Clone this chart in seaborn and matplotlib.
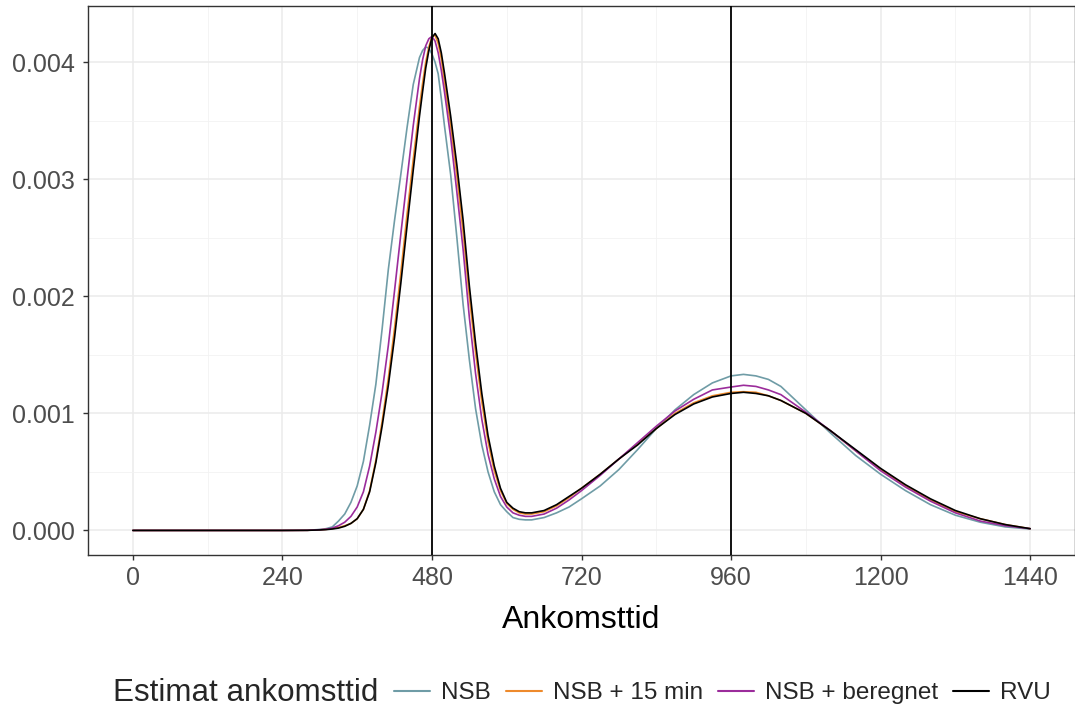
"""
Ankomsttid density curves: NSB estimates vs RVU
"""

import numpy as np
import pandas as pd
import matplotlib
matplotlib.use('Agg')
import matplotlib.pyplot as plt
from matplotlib.ticker import MultipleLocator, FormatStrFormatter
import seaborn as sns

# ── Data ──────────────────────────────────────────────────────────────────────

minutes = [0, 240, 280, 300, 310, 320, 330, 340, 350, 360, 370, 380, 390, 400,
           410, 420, 430, 440, 450, 460, 465, 470, 475, 480, 485, 490, 495, 500,
           510, 520, 530, 540, 550, 560, 570, 580, 590, 600, 610, 620, 630, 640,
           660, 680, 700, 720, 750, 780, 810, 840, 870, 900, 930, 960, 980, 1000,
           1020, 1040, 1080, 1120, 1160, 1200, 1240, 1280, 1320, 1360, 1400, 1440]

nsb = [0, 0, 0.000001, 0.000008, 0.000015, 0.00003, 0.00008, 0.00014, 0.00024,
       0.00038, 0.00059, 0.00090, 0.00125, 0.00172, 0.00223, 0.00265, 0.00304,
       0.00344, 0.00381, 0.00404, 0.00410, 0.00413, 0.00412, 0.00407, 0.00400,
       0.00390, 0.00369, 0.00346, 0.00304, 0.00250, 0.00193, 0.00146, 0.00104,
       0.00073, 0.00050, 0.00033, 0.00022, 0.00016, 0.00011, 0.000095, 0.00009,
       0.00009, 0.00011, 0.00015, 0.00020, 0.00027, 0.00038, 0.00052, 0.00069,
       0.00087, 0.00103, 0.00116, 0.00126, 0.00132, 0.001333, 0.00132, 0.00129,
       0.00123, 0.00103, 0.00083, 0.00064, 0.00048, 0.00034, 0.00022, 0.00013,
       0.00007, 0.00003, 0.000012]

nsb_15 = [0, 0, 0.000001, 0.000005, 0.000009, 0.000015, 0.000025, 0.00004,
          0.00006, 0.0001, 0.00018, 0.00034, 0.0006, 0.00093, 0.0013, 0.00173,
          0.0022, 0.0027, 0.00317, 0.00362, 0.00382, 0.004, 0.00413, 0.00422,
          0.00423, 0.00416, 0.00403, 0.00384, 0.00346, 0.00303, 0.00255, 0.002,
          0.00152, 0.0011, 0.00076, 0.00051, 0.00034, 0.00023, 0.00018, 0.00015,
          0.00014, 0.00014, 0.00016, 0.00021, 0.00028, 0.00036, 0.00048, 0.00061,
          0.00074, 0.00087, 0.001, 0.00109, 0.00115, 0.00118, 0.001185, 0.00118,
          0.00115, 0.00111, 0.001, 0.00085, 0.00068, 0.00052, 0.00038, 0.00026,
          0.00016, 0.0001, 0.00005, 0.000015]

nsb_beregnet = [0, 0, 0.000001, 0.000006, 0.00001, 0.00002, 0.00004, 0.00007,
                0.00012, 0.0002, 0.00033, 0.00055, 0.00084, 0.00118, 0.00158,
                0.00205, 0.00253, 0.003, 0.00346, 0.00386, 0.00402, 0.00414,
                0.0042, 0.00422, 0.00418, 0.00408, 0.00393, 0.00375, 0.00336,
                0.00289, 0.0024, 0.00182, 0.00134, 0.00095, 0.00065, 0.00044,
                0.00029, 0.0002, 0.00015, 0.00013, 0.00012, 0.00012, 0.00014,
                0.00019, 0.00026, 0.00034, 0.00047, 0.00061, 0.00075, 0.00089,
                0.00102, 0.00112, 0.0012, 0.001225, 0.00124, 0.00123, 0.0012,
                0.00116, 0.00101, 0.00085, 0.00068, 0.00051, 0.00037, 0.00025,
                0.00015, 0.00008, 0.00004, 0.000015]

rvu = [0, 0, 0.000001, 0.000004, 0.000007, 0.000012, 0.00002, 0.000035, 0.00006,
       0.0001, 0.00018, 0.00033, 0.00058, 0.00089, 0.00124, 0.00165, 0.00211,
       0.0026, 0.00308, 0.00354, 0.00375, 0.00395, 0.0041, 0.00421, 0.004245,
       0.0042, 0.00408, 0.00391, 0.00354, 0.00312, 0.00265, 0.00209, 0.0016,
       0.00117, 0.00081, 0.00055, 0.00036, 0.00024, 0.00019, 0.00016, 0.00015,
       0.00015, 0.00017, 0.00022, 0.00029, 0.00036, 0.00048, 0.00061, 0.00073,
       0.00087, 0.00099, 0.00108, 0.00114, 0.00117, 0.00118, 0.00117, 0.00115,
       0.00111, 0.001, 0.00085, 0.00069, 0.00053, 0.00039, 0.00027, 0.00017,
       0.0001, 0.00005, 0.000015]

series_names = ['NSB', 'NSB + 15 min', 'NSB + beregnet', 'RVU']
series_colors = ['#6f9ca6', '#ee8a2c', '#9b2c9b', '#000000']
ref_lines = [480, 960]
x_ticks = [0, 240, 480, 720, 960, 1200, 1440]

# ── Long-form table ───────────────────────────────────────────────────────────

df = pd.concat([
    pd.DataFrame({'Ankomsttid': minutes, 'density': vals, 'Estimat': name})
    for name, vals in zip(series_names, [nsb, nsb_15, nsb_beregnet, rvu])
], ignore_index=True)

# ── Plot ──────────────────────────────────────────────────────────────────────

sns.set_theme(style='whitegrid')
plt.rcParams['font.family'] = ['Liberation Sans', 'DejaVu Sans']

fig = plt.figure(figsize=(10.75, 7.10), dpi=100)
ax = fig.add_axes([88 / 1075, 1 - 555 / 710, 987 / 1075, 549 / 710])

sns.lineplot(data=df, x='Ankomsttid', y='density', hue='Estimat',
             hue_order=series_names, palette=dict(zip(series_names, series_colors)),
             estimator=None, linewidth=1.2, ax=ax, legend=False)

for xv in ref_lines:
    ax.axvline(xv, color='black', linewidth=1.3, zorder=5)

ax.set_xlim(-72, 1512)
ax.set_ylim(-0.00021, 0.00448)
ax.set_xticks(x_ticks)
ax.xaxis.set_minor_locator(MultipleLocator(120))
ax.yaxis.set_major_locator(MultipleLocator(0.001))
ax.yaxis.set_minor_locator(MultipleLocator(0.0005))
ax.yaxis.set_major_formatter(FormatStrFormatter('%.3f'))

ax.set_facecolor('white')
ax.grid(which='major', color='#ebebeb', linewidth=1.1)
ax.grid(which='minor', color='#f2f2f2', linewidth=0.6)
ax.set_axisbelow(True)
for side in ax.spines.values():
    side.set_color('#333333')
    side.set_linewidth(1.0)

ax.tick_params(axis='both', which='major', length=3.6, width=1, color='#333333',
               labelcolor='#4d4d4d', labelsize=18, bottom=True, left=True)
ax.tick_params(axis='x', which='major', pad=4)
ax.tick_params(axis='y', which='major', pad=6)
ax.tick_params(axis='both', which='minor', length=0)
ax.set_xlabel('Ankomsttid', fontsize=23, color='black', labelpad=11)
ax.set_ylabel('')

# legend at the bottom, title inline as in ggplot
fig.text(113 / 1075, 1 - 693 / 710, 'Estimat ankomsttid', fontsize=22.6,
         ha='left', va='center')
handles = [plt.Line2D([], [], color=c, linewidth=1.5) for c in series_colors]
fig.legend(handles, series_names, loc='center left', ncol=4,
           bbox_to_anchor=(394 / 1075, 1 - 693 / 710), frameon=False,
           fontsize=17.5, handlelength=1.5, handletextpad=0.45, columnspacing=0.6,
           borderaxespad=0, borderpad=0)

fig.savefig('out.png', dpi=100, facecolor='white')
plt.close(fig)
